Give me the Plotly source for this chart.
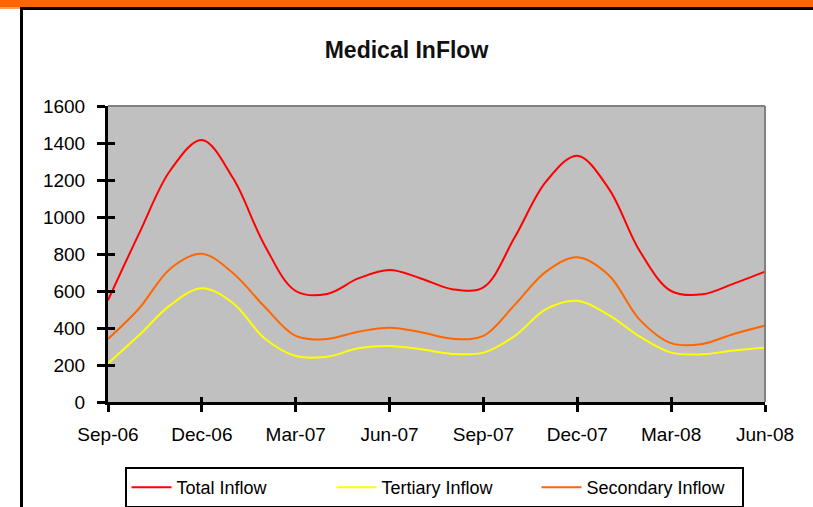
import plotly.graph_objects as go

month_index = list(range(22))
tick_positions = [0, 3, 6, 9, 12, 15, 18, 21]
tick_labels = ["Sep-06", "Dec-06", "Mar-07", "Jun-07", "Sep-07", "Dec-07", "Mar-08", "Jun-08"]

total_inflow = [550, 913, 1254, 1416, 1209, 849, 600, 584, 668, 714, 668, 610,
                620, 890, 1191, 1331, 1155, 815, 600, 582, 640, 705]
tertiary_inflow = [209, 362, 525, 615, 534, 345, 249, 245, 290, 303, 285, 260,
                   267, 357, 502, 547, 471, 353, 267, 258, 278, 294]
secondary_inflow = [341, 507, 722, 801, 696, 516, 357, 341, 380, 402, 377, 342,
                    357, 525, 705, 783, 687, 444, 318, 314, 368, 413]

W, H = 813, 507
L, R, T, B = 108, 765, 106, 402
pw, ph = R - L, B - T


def px(x):
    return (x - L) / pw


def py(y):
    return (B - y) / ph


FONT = "Liberation Sans, Arial, sans-serif"

fig = go.Figure()
series = [("Total Inflow", total_inflow, "#FF0000"),
          ("Tertiary Inflow", tertiary_inflow, "#FFFF00"),
          ("Secondary Inflow", secondary_inflow, "#FF6600")]
for name, vals, col in series:
    fig.add_trace(go.Scatter(x=month_index, y=vals, name=name, mode="lines",
                             line=dict(color=col, width=2, shape="spline", smoothing=1.0),
                             hoverinfo="x+y"))

# invisible trace for inside tick marks (crossing ticks)
fig.add_trace(go.Scatter(x=[0], y=[0], xaxis="x2", yaxis="y2", mode="markers",
                         marker=dict(size=1, opacity=0), showlegend=False, hoverinfo="skip"))

fig.update_layout(
    width=W, height=H,
    margin=dict(l=L, r=W - R, t=T, b=H - B, autoexpand=False),
    paper_bgcolor="white",
    plot_bgcolor="#C0C0C0",
    font=dict(family=FONT, color="black", size=19),
    title=dict(text="<b>Medical InFlow</b>", x=px(406.5), xref="paper", xanchor="center",
               y=1 - 50 / H, yanchor="middle", font=dict(size=23, family=FONT, color="#111111")),
    xaxis=dict(range=[0, 21], tickmode="array", tickvals=tick_positions, ticktext=tick_labels,
               showgrid=False, zeroline=False, showline=True, linecolor="black", linewidth=3,
               ticks="outside", ticklen=7, tickwidth=3, tickcolor="black",
               ticklabelstandoff=6, tickfont=dict(size=19), fixedrange=True, automargin=False),
    yaxis=dict(range=[0, 1600], tickmode="array", tickvals=list(range(0, 1601, 200)),
               showgrid=False, zeroline=False, showline=True, linecolor="black", linewidth=3,
               ticks="outside", ticklen=8, tickwidth=3, tickcolor="black",
               ticklabelstandoff=8, tickfont=dict(size=19), fixedrange=True, automargin=False),
    xaxis2=dict(range=[0, 21], overlaying="x", anchor="y2", tickmode="array",
                tickvals=tick_positions, showticklabels=False, showgrid=False, zeroline=False,
                showline=False, ticks="inside", ticklen=5, tickwidth=3, tickcolor="black",
                side="bottom", fixedrange=True),
    yaxis2=dict(range=[0, 1600], overlaying="y", anchor="x2", tickmode="array",
                tickvals=list(range(0, 1601, 200)), showticklabels=False, showgrid=False,
                zeroline=False, showline=False, ticks="inside", ticklen=7, tickwidth=3,
                tickcolor="black", side="left", fixedrange=True),
    legend=dict(orientation="h", xref="container", yref="container",
                x=434 / W, xanchor="center", y=1 - 467 / H, yanchor="top",
                bgcolor="white", bordercolor="black", borderwidth=2,
                font=dict(size=18, family=FONT, color="black"),
                itemwidth=40, tracegroupgap=0, traceorder="normal",
                entrywidth=150, entrywidthmode="pixels"),
    showlegend=True,
)

shapes = [
    # top/right plot border (gray)
    dict(type="line", xref="paper", yref="paper", x0=0, x1=1, y0=1, y1=1,
         line=dict(color="#808080", width=2)),
    dict(type="line", xref="paper", yref="paper", x0=1, x1=1, y0=0, y1=1,
         line=dict(color="#808080", width=2)),
    # orange top bar
    dict(type="rect", xref="paper", yref="paper", x0=px(0), x1=px(W), y0=py(0), y1=py(7),
         fillcolor="#FF6600", line=dict(width=0), layer="above"),
    # black frame lines
    dict(type="rect", xref="paper", yref="paper", x0=px(20), x1=px(W), y0=py(7), y1=py(10),
         fillcolor="black", line=dict(width=0), layer="above"),
    dict(type="rect", xref="paper", yref="paper", x0=px(20), x1=px(23), y0=py(7), y1=py(H),
         fillcolor="black", line=dict(width=0), layer="above"),
    dict(type="rect", xref="paper", yref="paper", x0=px(0), x1=px(20), y0=py(7), y1=py(9),
         fillcolor="#FFA060", line=dict(width=0), layer="above"),
]
fig.update_layout(shapes=shapes)

fig.write_html("out.html", config={"displayModeBar": False},
               post_script="document.body.style.margin='0';document.body.style.overflow='hidden';")
